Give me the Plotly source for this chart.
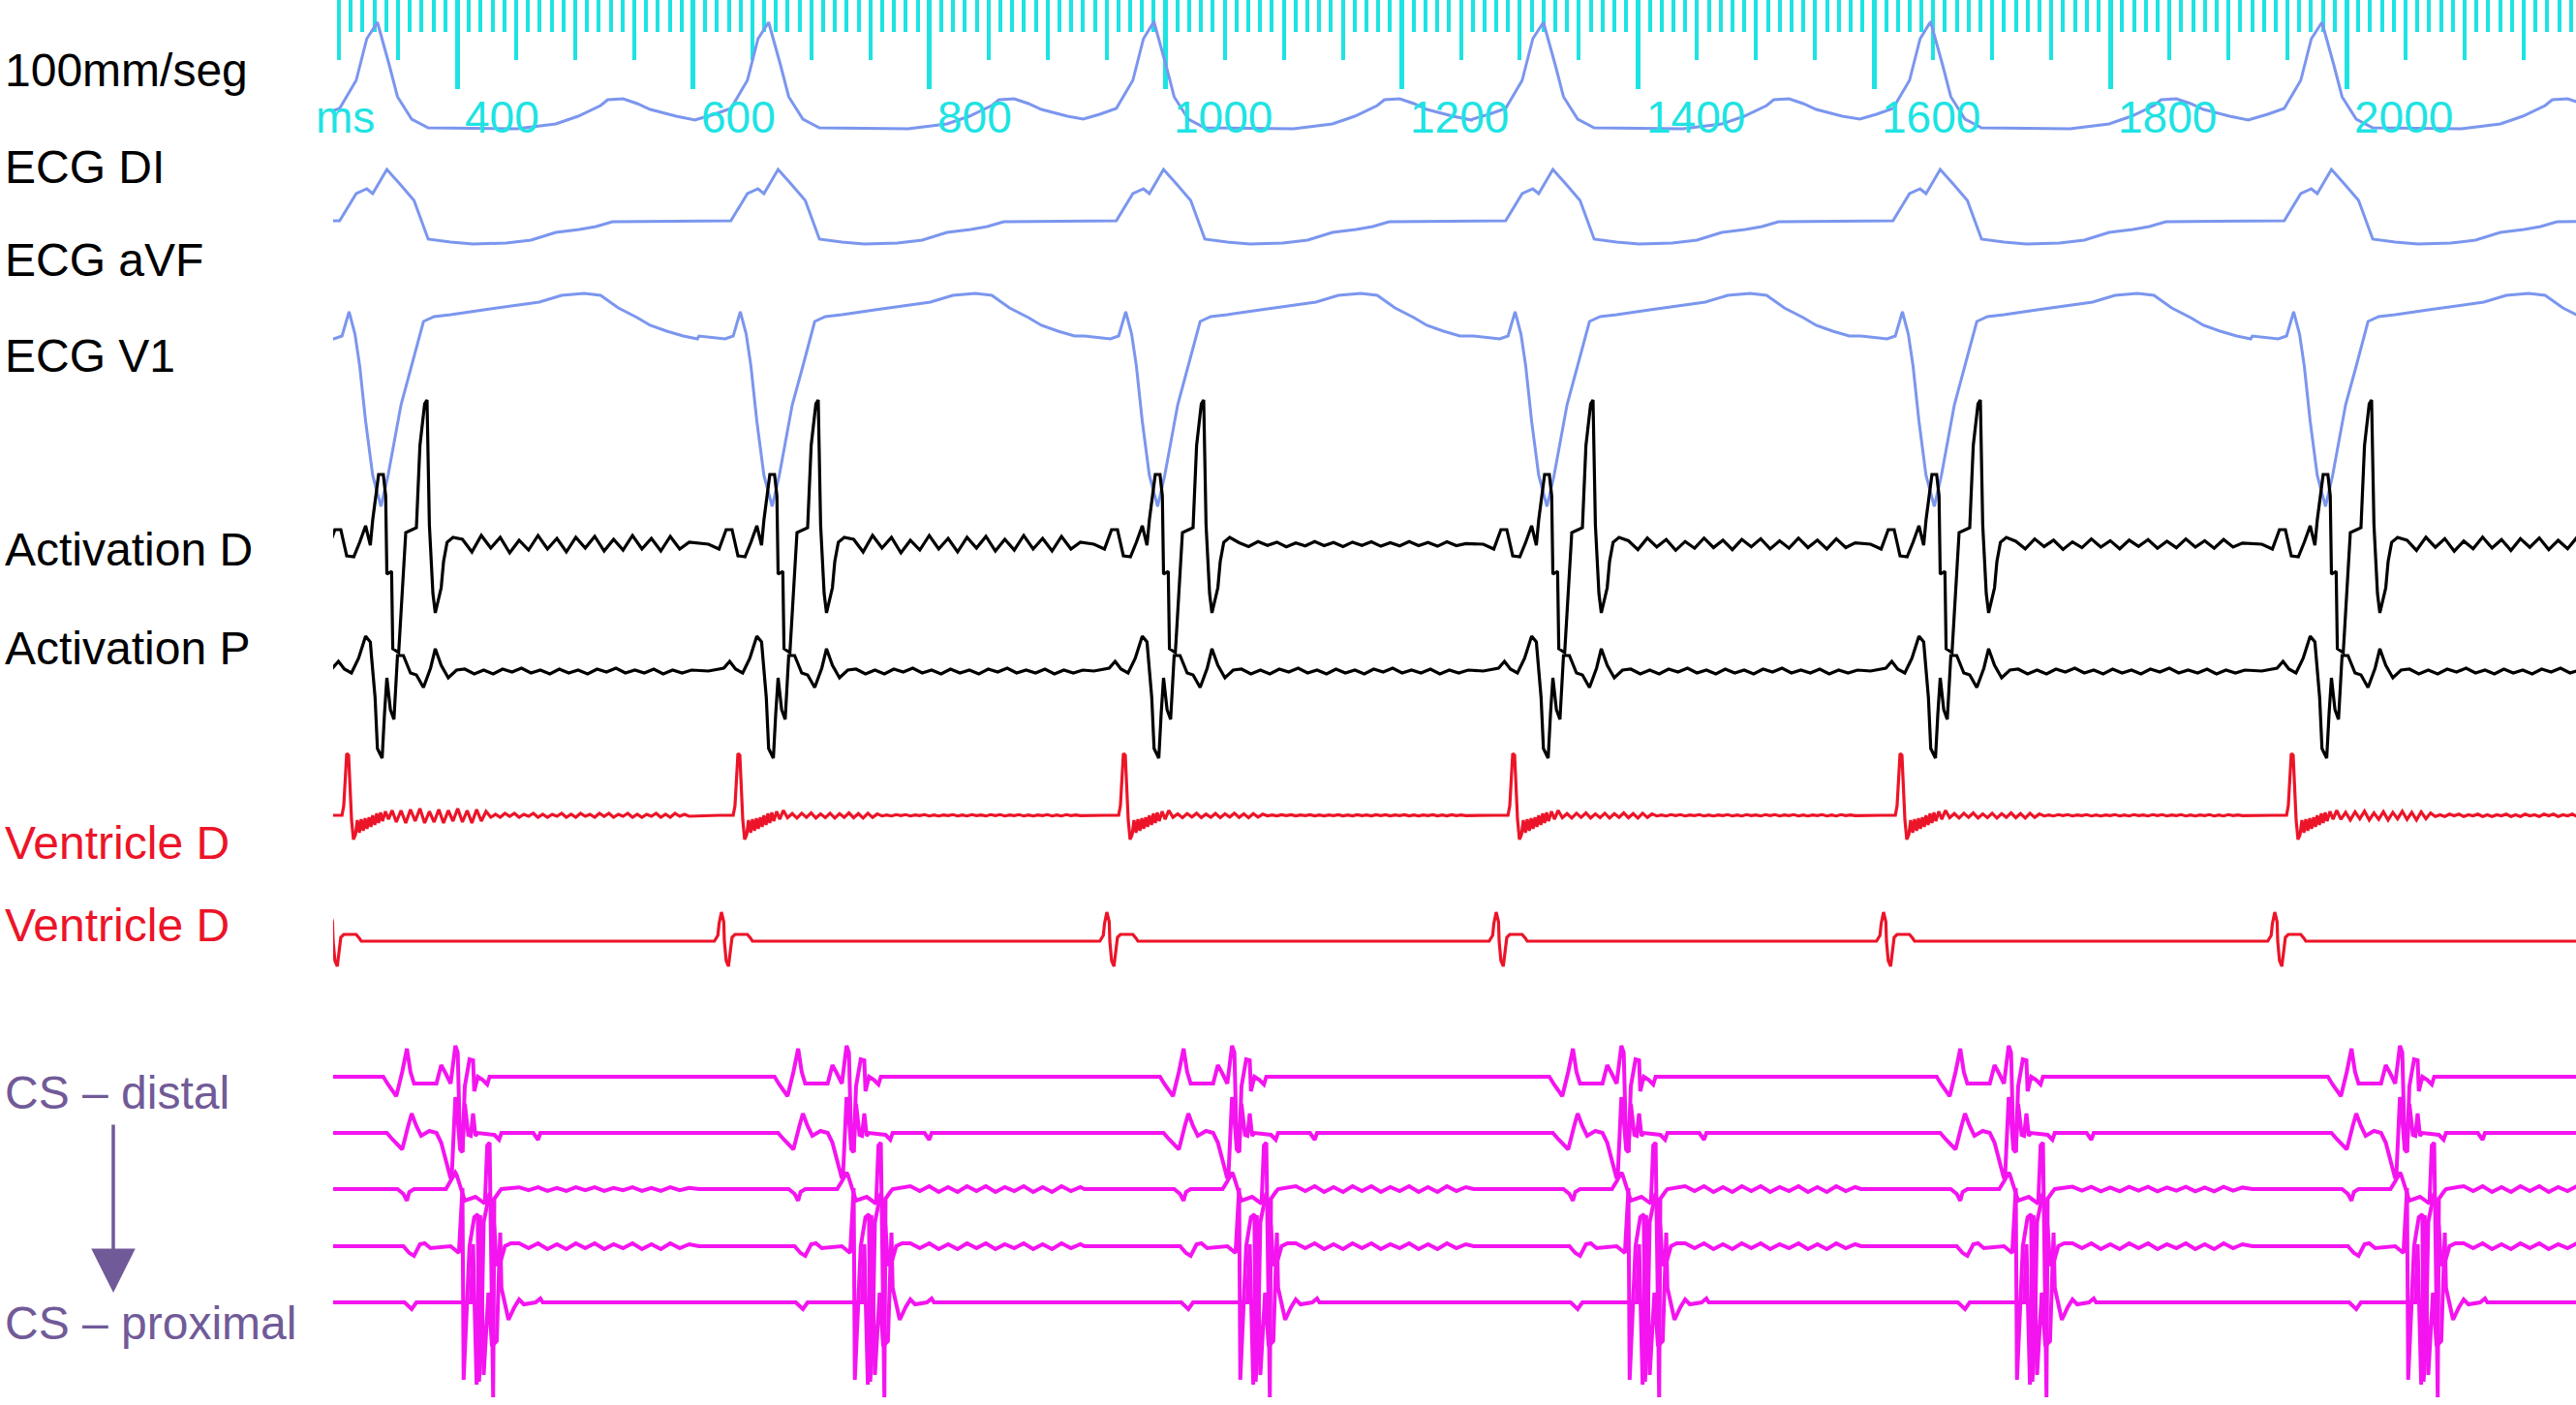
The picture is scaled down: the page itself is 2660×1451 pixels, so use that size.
import plotly.graph_objects as go

# stimulus times of the six beats (ms), read at the Ventricle D spike
BEAT_MS = [306.5, 637.8, 964.2, 1293.9, 1621.9, 1953.2]

RULER_MS = [400, 600, 800, 1000, 1200, 1400, 1600, 1800, 2000]
RULER_TEXT = ["400", "600", "800", "1000", "1200", "1400", "1600", "1800", "2000"]

# one beat per channel: time from stimulus (ms) and deflection (screen px, up = +)
DI_T = [-34, -20, -6, 8, 17, 25, 26, 36, 43, 55, 69, 144, 177, 196, 215, 221, 234, 246, 257, 279, 295]
DI_V = [10, 15, 21, 50, 93, 109, 110, 66, 33, 10, 1, 0, 5, 13, 24, 30, 31, 26, 20, 13, 9]

AVF_T = [-33, -6, 8, 17, 22, 34, 45, 50, 57, 69, 88, 107, 135, 156, 177, 197, 211, 225, 295]
AVF_V = [22, 22, 50, 55, 50, 75, 60, 53, 43, 3, 0, -2, -1, 2, 10, 13, 16, 21, 22]

V1_T = [-33, -11, -4, 2, 7, 11, 16, 22, 29, 35, 46, 55, 65, 74, 88, 116, 135, 163, 182, 201,
        215, 230, 246, 257, 271, 285, 297]
V1_V = [-24, -27, -24, 1, -22, -55, -112, -168, -200, -168, -95, -55, -9, -4, -2, 3, 6, 11, 18, 20,
        18, 5, -5, -13, -19, -24, -27]

ACTD_T = [-25, -16, -10, -5, 0, 6, 11, 16, 20, 22, 27, 31, 33, 34, 38, 39, 44, 47, 50, 59,
          62, 66, 68, 70, 73, 75, 80, 82, 85, 90]
ACTD_V = [0, -5, 15, 15, -12, -13, 2, 19, -1, 25, 72, 72, 50, -31, -28, -108, -112, -45, 12, 17,
          102, 145, 149, 20, -51, -71, -45, -18, 2, 7]
ACTD_RIPPLE = [5, -8, 9, -4, 7, -9, 4, -6, 9, -5, 6, -8, 7, -4, 8, -7, 5, -6, 9, -5, 6, -7, 8, -5, 2]
ACTD_GAIN = [1.0, 1.0, 0.3, 0.7, 0.6, 0.8]

ACTP_T = [-25, -12, -7, -2, 4, 10, 16, 20, 21, 24, 26, 30, 32, 34, 37, 40, 43, 48, 54, 59,
          65, 71, 75, 80, 86, 93]
ACTP_V = [0, 3, 10, 2, -2, 13, 36, 30, 15, -27, -80, -90, -44, -7, -40, -50, 16, 16, -2, -4,
          -17, 3, 23, 6, -7, 1]
ACTP_RIPPLE = [2, -3, 1, -3, 2, -1, 3, -2, 1, -3, 2, -2, 1, -3, 2, -1, 3, -2, 1, -2, 2, -3, 1, -2, 1]
ACTP_GAIN = [1, 1, 1, 1, 1, 1]

VD_T = [-16, -4, -2.5, -1, 0, 1.6, 2.5, 3.3, 4.1, 5.7, 7.4, 9, 10.7, 12.3, 14, 15.6, 17.2, 18.9,
        20.5, 22, 23.8, 25.4, 27, 28.7, 30.3, 32.8, 35.3, 38.5]
VD_V = [0, 0, 10, 50, 64, 62, 30, 8, -5, -25, -20, -5, -18, -4, -16, -3, -14, -2,
        -12, 0, -10, 2, -8, 3, -6, 4, -4, 5]
VD_RIPPLE = [-7, 5, -8, 6, -6, 7, -8, 4, -7, 6, -8, 5, -6, 7, -7, 5, -8, 6, -6, 4,
             -2, 1, -2, 2, -1, 2, -2, 1, -1, 2, -2, 1, -2, 1, -1, 2, -2, 1, -2, 2, -1,
             1, -2, 2, -1, 2, -2, 1, -1, 2, -2, 1, -2, 1, -1, 2, -2, 1, -2, 2, -1, 1, -1]
VD_GAIN = [1.0, 0.35, 0.3, 0.35, 0.35, 0.6]

VD2_T = [-33, -20, -17, -16, -14, -12, -11.5, -10, -8, -6.6, -5, -2.5, 8, 10.7, 12.3, 295]
VD2_V = [0, 0, 6, 18, 30, 20, 0, -20, -26, -12, 4, 7, 7, 3, 0, 0]

CS1_T = [-33, 31, 35, 42, 47, 51, 54, 57, 76, 80, 84, 88, 92, 94, 96, 98, 100, 104, 107, 108,
         111, 115, 119, 121, 295]
CS1_V = [0, 0, -8, -20, 5, 29, 5, -7, -7, 12, 3, -7, 32, 25, -70, -78, -10, 18, 17, -15,
         0, -3, -8, 0, 0]

CS2_T = [-33, 34, 39, 47, 52, 55, 59, 63, 70, 76, 80, 84, 88, 89, 92, 93, 96, 98, 100, 103,
         105, 107, 109, 111, 125, 129, 131, 158, 162, 164, 295]
CS2_V = [0, 0, -7, -17, 7, 20, 7, -3, 2, 0, -10, -27, -47, -43, 37, 30, -17, -20, 30, -2,
         -3, 20, -3, 0, -2, -7, 0, 0, -7, 0, 0]

CS3_T = [-33, 43, 48, 51, 53, 57, 84, 88, 92, 93, 96, 100, 109, 113, 117, 119, 121, 124, 125, 129, 131]
CS3_V = [0, 0, -5, -12, -3, 0, 0, 8, 17, 15, 2, -12, -8, -12, -15, 45, 48, -215, -10, -3, 0]

CS4_T = [-33, 48, 53, 57, 62, 66, 71, 88, 95, 98, 99, 102, 104, 108, 111, 112, 114, 116, 121, 125,
         127, 130, 134, 139]
CS4_V = [0, 0, -7, -10, 2, 3, -2, 0, -7, 60, -138, -60, 0, 30, 33, -140, -100, 25, 55, 20,
         -20, -17, 0, 3]

CS5_T = [-33, 49, 55, 59, 105, 107, 110, 113, 116, 120, 123, 127, 130, 131, 137, 142, 146, 150,
         160, 164, 166, 295]
CS5_V = [0, 0, -7, 0, 0, 60, -85, 90, -75, 10, -45, -40, 72, 15, -18, -5, 3, -2,
         0, 4, 0, 0]

CS_RIPPLE = [3, -2, 3, -3, 2, -3, 3, -2, 3, -3, 2, -2, 3, -3, 2, -3, 3, -2, 2]
CS3_GAIN = [0.6, 1, 1, 1, 0.8, 1]
CS4_GAIN = [1, 1, 1, 1, 1, 1]

LABELS = ["100mm/seg", "ECG DI", "ECG aVF", "ECG V1", "Activation D", "Activation P",
          "Ventricle D", "Ventricle D", "CS – distal", "CS – proximal"]

# ---- styling / layout ----
W, H = 2660, 1451
CYAN = "#1FE3E3"
BLUE = "#7B96EE"
RED = "#EC1428"
MAG = "#F414F0"
PURPLE = "#715A98"


def build(t, v, base, ripple=None, r0=0, step=8, gains=None):
    xs, ys = [], []
    for i, b in enumerate(BEAT_MS):
        stop = BEAT_MS[i + 1] + t[0] if i + 1 < len(BEAT_MS) else 1e9
        pts = list(zip(t, v))
        if ripple:
            pts += [(r0 + k * step, gains[i] * a) for k, a in enumerate(ripple)]
        for dt, a in pts:
            if b + dt < stop:
                xs.append(b + dt)
                ys.append(base - a)
    return xs, ys


channels = [
    (DI_T, DI_V, 133, BLUE, 3, {}),
    (AVF_T, AVF_V, 250, BLUE, 3, {}),
    (V1_T, V1_V, 323, BLUE, 3, {}),
    (ACTD_T, ACTD_V, 562, "black", 3.2, dict(ripple=ACTD_RIPPLE, r0=98, step=8, gains=ACTD_GAIN)),
    (ACTP_T, ACTP_V, 693, "black", 3.2, dict(ripple=ACTP_RIPPLE, r0=100, step=8, gains=ACTP_GAIN)),
    (VD_T, VD_V, 842, RED, 3.2, dict(ripple=VD_RIPPLE, r0=42, step=4, gains=VD_GAIN)),
    (VD2_T, VD2_V, 972, RED, 3.2, {}),
    (CS1_T, CS1_V, 1112, MAG, 4, {}),
    (CS2_T, CS2_V, 1170, MAG, 4, {}),
    (CS3_T, CS3_V, 1228, MAG, 4, dict(ripple=CS_RIPPLE, r0=146, step=8, gains=CS3_GAIN)),
    (CS4_T, CS4_V, 1287, MAG, 4, dict(ripple=CS_RIPPLE, r0=146, step=8, gains=CS4_GAIN)),
    (CS5_T, CS5_V, 1345, MAG, 4, {}),
]

fig = go.Figure()
for t, v, base, col, lw, rip in channels:
    xs, ys = build(t, v, base, **rip)
    fig.add_trace(go.Scatter(x=xs, y=ys, mode="lines", line=dict(color=col, width=lw),
                             hoverinfo="skip", showlegend=False))

# invisible trace so the long-tick axis gets drawn
fig.add_trace(go.Scatter(x=[RULER_MS[0]], y=[0], xaxis="x2", mode="markers",
                         marker=dict(opacity=0), showlegend=False, hoverinfo="skip"))

XR = [295.0, 2194.3]
fig.update_layout(
    width=W, height=H,
    margin=dict(l=0, r=0, t=0, b=0),
    paper_bgcolor="white", plot_bgcolor="white",
    xaxis=dict(domain=[344 / W, 1], range=XR, side="top", anchor="y",
               showgrid=False, zeroline=False, showline=False, showticklabels=False,
               ticks="inside", tick0=0, dtick=50, ticklen=62, tickwidth=4, tickcolor=CYAN,
               minor=dict(ticks="inside", tick0=0, dtick=10, ticklen=33, tickwidth=4,
                          tickcolor=CYAN, showgrid=False),
               layer="below traces"),
    xaxis2=dict(overlaying="x", range=XR, side="top", anchor="y",
                showgrid=False, zeroline=False, showline=False, showticklabels=False,
                ticks="inside", tick0=0, dtick=200, ticklen=92, tickwidth=5, tickcolor=CYAN,
                layer="below traces"),
    yaxis=dict(domain=[0, 1], range=[H, 0], visible=False),
)

anns = []
for ms, txt in zip(RULER_MS, RULER_TEXT):
    anns.append(dict(x=ms + 5, y=121, xref="x", yref="y", text=txt, showarrow=False,
                     xanchor="left", yanchor="middle",
                     font=dict(family="Liberation Sans, Arial", size=46, color=CYAN)))
anns.append(dict(x=389 / W, y=121, xref="paper", yref="y", text="ms", showarrow=False,
                 xanchor="right", yanchor="middle",
                 font=dict(family="Liberation Sans, Arial", size=46, color=CYAN)))

label_y = [72, 172, 268, 367, 567, 669, 870, 955, 1128, 1366]
label_c = ["black"] * 6 + [RED, RED, PURPLE, PURPLE]
for txt, y, c in zip(LABELS, label_y, label_c):
    anns.append(dict(x=3 / W, y=y, xref="paper", yref="y", text=txt, showarrow=False,
                     xanchor="left", yanchor="middle",
                     font=dict(family="Liberation Sans, Arial", size=48, color=c)))

# distal -> proximal arrow
anns.append(dict(x=117 / W, y=1335, xref="paper", yref="y", ax=0, ay=-175, text="",
                 showarrow=True, arrowhead=2, arrowsize=2.6, arrowwidth=3.5, arrowcolor=PURPLE))

fig.update_layout(annotations=anns)

# drop the browser's default 8px body margin so the figure sits at the page corner
fig.write_html("out.html", config={"displayModeBar": False},
               post_script="document.body.style.margin='0';")
